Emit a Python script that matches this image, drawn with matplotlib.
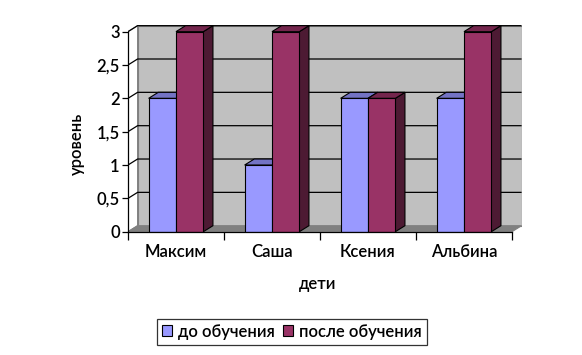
import matplotlib
matplotlib.use('Agg')
import matplotlib.pyplot as plt
from matplotlib.patches import Polygon, Rectangle
import numpy as np

# data
children = ['Максим', 'Саша', 'Ксения', 'Альбина']
before = [2, 1, 2, 2]
after = [3, 3, 2, 3]
series_names = ['до обучения', 'после обучения']
yticks = [0, 0.5, 1, 1.5, 2, 2.5, 3]
ytick_labels = ['0', '0,5', '1', '1,5', '2', '2,5', '3']

plt.rcParams['font.family'] = ['Lato', 'DejaVu Sans']
plt.rcParams['font.weight'] = 'semibold'
fs = 12

# face colours: front, top, side
blue = ('#9999ff', '#7373c4', '#4d4d80')
wine = ('#993366', '#74264d', '#4d1a33')

fig = plt.figure(figsize=(5.82, 3.55), dpi=100)
ax = fig.add_axes([0.2199, 0.3473, 0.6763, 0.5823])
ax.set_xlim(-0.5, 3.6)
ax.set_ylim(0, 3.1)

dx, dy = 0.1, 0.09   # depth offset in data units
x0, x1, ytop = -0.5, len(children) - 0.5, 3

# back wall, side wall, floor
ax.add_patch(Rectangle((x0 + dx, dy), x1 - x0, ytop, fc='#c0c0c0',
                       ec='#808080', lw=0.8, zorder=0))
ax.add_patch(Polygon([(x0, 0), (x0 + dx, dy), (x0 + dx, ytop + dy), (x0, ytop)],
                     closed=True, fc='white', ec='#808080', lw=0.8, zorder=0))
ax.add_patch(Polygon([(x0, 0), (x1, 0), (x1 + dx, dy), (x0 + dx, dy)],
                     closed=True, fc='#808080', ec='#808080', lw=0.8, zorder=1))

# gridlines on back and side wall
for yv in yticks[1:]:
    ax.plot([x0, x0 + dx, x1 + dx], [yv, yv + dy, yv + dy], color='black',
            lw=0.9, zorder=1, solid_capstyle='butt')

def bar3d(xl, w, h, cols, z):
    xr = xl + w
    ax.add_patch(Polygon([(xr, 0), (xr + dx, dy), (xr + dx, h + dy), (xr, h)],
                         closed=True, fc=cols[2], ec='black', lw=0.8, zorder=z))
    ax.add_patch(Polygon([(xl, h), (xr, h), (xr + dx, h + dy), (xl + dx, h + dy)],
                         closed=True, fc=cols[1], ec='black', lw=0.8, zorder=z))
    ax.add_patch(Rectangle((xl, 0), w, h, fc=cols[0], ec='black', lw=0.8, zorder=z))

w = 0.285
for i in range(len(children)):
    bar3d(i - w, w, before[i], blue, 2 + 2 * i)
    bar3d(i, w, after[i], wine, 3 + 2 * i)

# axes styling
for s in ['top', 'right']:
    ax.spines[s].set_visible(False)
ax.spines['left'].set_bounds(0, 3)
ax.spines['bottom'].set_bounds(x0, x1)
ax.spines['left'].set_linewidth(0.9)
ax.spines['bottom'].set_linewidth(0.9)
ax.spines['left'].set_zorder(20)
ax.spines['bottom'].set_zorder(20)
ax.set_yticks(yticks)
ax.set_yticklabels(ytick_labels, fontsize=fs)
ax.tick_params(axis='y', length=4, width=0.9, pad=2)
ax.set_xticks(np.arange(x0, x1 + 0.01, 1))
ax.set_xticklabels([])
ax.tick_params(axis='x', which='major', length=6, width=0.9)
ax.set_xticks(np.arange(len(children)), minor=True)
ax.set_xticklabels(children, minor=True, fontsize=fs)
ax.tick_params(axis='x', which='minor', length=0, pad=9)

fig.text(0.5464, 0.2, 'дети', ha='center', va='center', fontsize=fs)
fig.text(0.1323, 0.594, 'уровень', ha='center', va='center', rotation=90, fontsize=fs)

handles = [Rectangle((0, 0), 1, 1, fc=blue[0], ec='black', lw=0.8),
           Rectangle((0, 0), 1, 1, fc=wine[0], ec='black', lw=0.8)]
leg = fig.legend(handles, series_names, loc='center', bbox_to_anchor=(0.502, 0.066),
                 ncol=2, fontsize=fs, fancybox=False, handlelength=0.6,
                 handleheight=0.6, handletextpad=0.35, columnspacing=0.5,
                 borderpad=0.3, borderaxespad=0)
leg.get_frame().set_edgecolor('black')
leg.get_frame().set_linewidth(0.9)

fig.savefig('out.png', dpi=100)
